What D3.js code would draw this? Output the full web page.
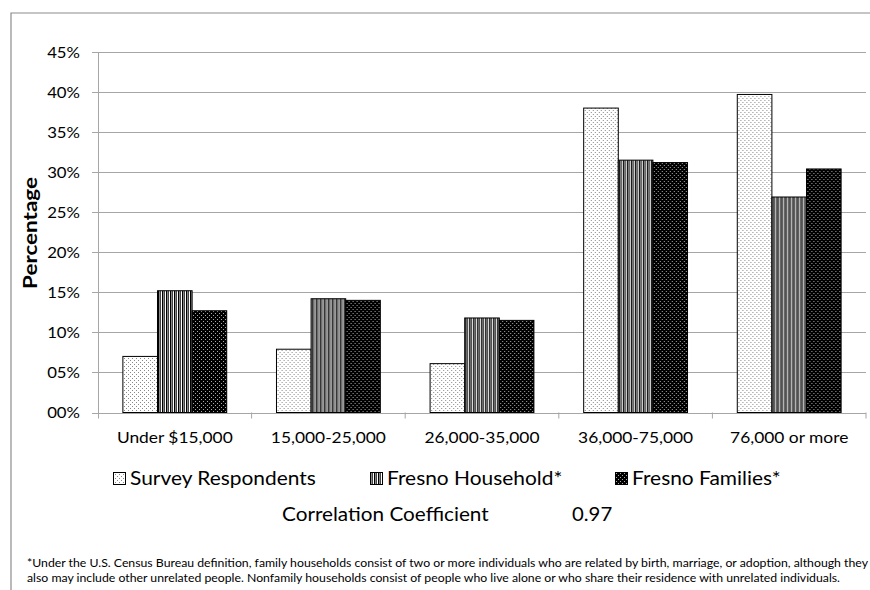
<!DOCTYPE html>
<html lang="en">
<head>
<meta charset="UTF-8">
<script src="https://d3js.org/d3.v7.min.js"></script>
<title>Income distribution</title>
<style>
  body { margin: 0; background: #fff; }
  svg { font-family: Lato, "Open Sans", sans-serif; }
  .grid line { stroke: #a6a6a6; stroke-width: 1; }
  .tick-label { font-size: 15.5px; fill: #000; }
</style>
</head>
<body>
<svg width="870" height="590"></svg>
<script>
  // data
  const categories = ["Under $15,000", "15,000-25,000", "26,000-35,000", "36,000-75,000", "76,000 or more"]
  const seriesNames = ["Survey Respondents", "Fresno Household*", "Fresno Families*"]
  const survey = [7.0, 7.9, 6.1, 38.0, 39.7]
  const household = [15.2, 14.2, 11.8, 31.5, 26.9]
  const families = [12.7, 14.0, 11.5, 31.2, 30.4]
  const yTicks = [0, 5, 10, 15, 20, 25, 30, 35, 40, 45]
  const correlation = "0.97"
  const footnote = [
    "*Under the U.S. Census Bureau definition, family households consist of two or more individuals who are related by birth, marriage, or adoption, although they",
    "also may include other unrelated people. Nonfamily households consist of people who live alone or who share their residence with unrelated individuals."
  ]

  const svg = d3.select("svg")
  const plot = { left: 98, right: 866, top: 52, bottom: 412.5 }

  // widen text a bit, the original font is wider than Lato
  const stretch = (sel, k) => sel.each(function () {
    const w = this.getComputedTextLength()
    d3.select(this).attr("textLength", w * k).attr("lengthAdjust", "spacingAndGlyphs")
  })

  // frame (only top and left edges show in the picture)
  svg.append("path")
    .attr("d", "M11,600 V13 H880")
    .attr("fill", "none")
    .attr("stroke", "#8c8c8c")
    .attr("stroke-width", 1.2)

  // patterns
  const defs = svg.append("defs")
  const p0 = defs.append("pattern").attr("id", "pat0").attr("patternUnits", "userSpaceOnUse")
    .attr("width", 4).attr("height", 4)
  p0.append("rect").attr("width", 4).attr("height", 4).attr("fill", "#fff")
  p0.append("rect").attr("x", 0).attr("y", 0).attr("width", 1).attr("height", 1).attr("fill", "#888")
  p0.append("rect").attr("x", 2).attr("y", 2).attr("width", 1).attr("height", 1).attr("fill", "#888")

  const p1 = defs.append("pattern").attr("id", "pat1").attr("patternUnits", "userSpaceOnUse")
    .attr("width", 4).attr("height", 4)
  p1.append("rect").attr("width", 4).attr("height", 4).attr("fill", "#fff")
  p1.append("rect").attr("x", 0).attr("width", 1).attr("height", 4).attr("fill", "#000")
  p1.append("rect").attr("x", 1).attr("width", 1).attr("height", 4).attr("fill", "#888")
  p1.append("rect").attr("x", 2).attr("width", 1).attr("height", 4).attr("fill", "#444")

  const p2 = defs.append("pattern").attr("id", "pat2").attr("patternUnits", "userSpaceOnUse")
    .attr("width", 4).attr("height", 4)
  p2.append("rect").attr("width", 4).attr("height", 4).attr("fill", "#000")
  p2.append("rect").attr("x", 1).attr("y", 1).attr("width", 1).attr("height", 1).attr("fill", "#aaa")
  p2.append("rect").attr("x", 3).attr("y", 3).attr("width", 1).attr("height", 1).attr("fill", "#aaa")

  const fills = ["url(#pat0)", "url(#pat1)", "url(#pat2)"]

  // scales
  const x0 = d3.scaleBand().domain(categories).range([plot.left, plot.right])
  const bw = x0.bandwidth()
  const x1 = d3.scaleBand().domain(seriesNames).range([bw * 0.162, bw * 0.838])
  const y = d3.scaleLinear().domain([0, 45]).range([plot.bottom, plot.top])

  // gridlines
  svg.append("g").attr("class", "grid")
    .selectAll("line").data(yTicks).enter().append("line")
    .attr("x1", plot.left - 6).attr("x2", plot.right)
    .attr("y1", d => Math.round(y(d)) + 0.5).attr("y2", d => Math.round(y(d)) + 0.5)

  svg.selectAll(".ylab").data(yTicks).enter().append("text")
    .attr("class", "tick-label")
    .attr("x", 80).attr("y", d => y(d) + 5.5)
    .attr("text-anchor", "end")
    .text(d => d3.format("02d")(d) + "%")
    .call(stretch, 1.08)

  // axis lines
  svg.append("line")
    .attr("x1", plot.left + 0.5).attr("x2", plot.left + 0.5)
    .attr("y1", plot.top).attr("y2", plot.bottom + 6)
    .attr("stroke", "#a6a6a6")
  svg.selectAll(".xtick").data(categories.slice(1).concat([null])).enter().append("line")
    .attr("x1", d => (d ? x0(d) : plot.right)).attr("x2", d => (d ? x0(d) : plot.right))
    .attr("y1", plot.bottom).attr("y2", plot.bottom + 6)
    .attr("stroke", "#a6a6a6")

  // bars
  const rows = categories.map((c, i) => [survey[i], household[i], families[i]])
  const groups = svg.selectAll(".grp").data(categories).enter().append("g")
    .attr("transform", d => `translate(${x0(d)},0)`)
  groups.selectAll("rect").data((d, i) => rows[i].map((v, j) => ({ v, s: seriesNames[j], j })))
    .enter().append("rect")
    .attr("x", d => x1(d.s))
    .attr("y", d => y(d.v))
    .attr("width", x1.bandwidth())
    .attr("height", d => y(0) - y(d.v))
    .attr("fill", d => fills[d.j])
    .attr("stroke", "#000")
    .attr("stroke-width", 1)

  // category labels
  svg.selectAll(".xlab").data(categories).enter().append("text")
    .attr("class", "tick-label")
    .attr("x", d => x0(d) + bw / 2).attr("y", 443)
    .attr("text-anchor", "middle")
    .text(d => d)
    .call(stretch, 1.12)

  // y title
  svg.append("text")
    .attr("transform", "translate(37,233) rotate(-90)")
    .attr("text-anchor", "middle")
    .attr("font-size", 19.5).attr("font-weight", "bold")
    .text("Percentage")
    .call(stretch, 1.15)

  // legend
  const legendX = [113, 370, 615]
  const lg = svg.selectAll(".lg").data(seriesNames).enter().append("g")
    .attr("transform", (d, i) => `translate(${legendX[i]},472)`)
  lg.append("rect").attr("x", 0.5).attr("y", 0.5).attr("width", 12).attr("height", 12)
    .attr("fill", (d, i) => fills[i]).attr("stroke", "#000")
  lg.append("text").attr("x", 17).attr("y", 13)
    .attr("font-size", 18.5).text(d => d)
    .call(stretch, 1.13)

  // correlation
  svg.append("text").attr("x", 282).attr("y", 521).attr("font-size", 18.5)
    .text("Correlation Coefficient")
    .call(stretch, 1.12)
  svg.append("text").attr("x", 572).attr("y", 521).attr("font-size", 18.5)
    .text(correlation)
    .call(stretch, 1.1)

  // footnote
  svg.selectAll(".fn").data(footnote).enter().append("text")
    .attr("x", 27).attr("y", (d, i) => 567 + i * 14.5)
    .attr("font-size", 10.5)
    .attr("textLength", (d, i) => (i === 0 ? 841 : 813))
    .attr("lengthAdjust", "spacingAndGlyphs")
    .text(d => d)
</script>
</body>
</html>
